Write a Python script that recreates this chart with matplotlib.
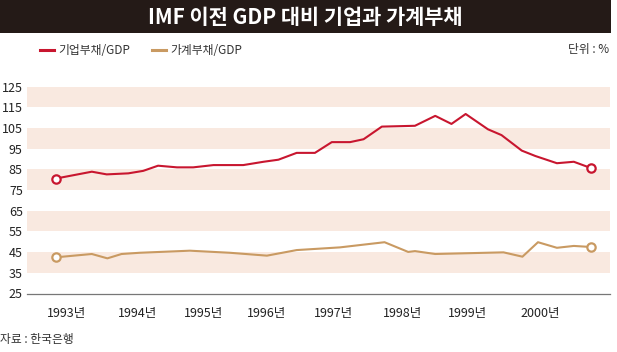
import matplotlib
matplotlib.use("Agg")
import matplotlib.pyplot as plt
from matplotlib.lines import Line2D
from matplotlib.patches import Rectangle

plt.rcParams['font.family'] = ['Noto Sans CJK KR', 'DejaVu Sans']

# x positions as decimal years
corp_x = [1993.00, 1993.53, 1993.75, 1994.07, 1994.29, 1994.51, 1994.79, 1995.03,
          1995.33, 1995.77, 1996.07, 1996.29, 1996.56, 1996.83, 1997.08, 1997.35,
          1997.55, 1997.82, 1998.31, 1998.61, 1998.85, 1999.06, 1999.39, 1999.59,
          1999.89, 2000.09, 2000.41, 2000.66, 2000.91]
corp_debt = [80.6, 83.9, 82.6, 83.1, 84.3, 86.8, 86.0, 86.0,
             87.1, 87.1, 88.7, 89.7, 93.0, 93.0, 98.2, 98.2,
             99.6, 105.7, 106.1, 110.9, 107.0, 111.8, 104.4, 101.6,
             94.1, 91.5, 88.0, 88.7, 85.7]

house_x = [1993.00, 1993.53, 1993.76, 1993.97, 1994.24, 1994.98, 1995.57, 1996.12,
           1996.56, 1997.20, 1997.86, 1998.21, 1998.31, 1998.61, 1999.62, 1999.90,
           2000.13, 2000.41, 2000.66, 2000.91]
house_debt = [42.5, 44.1, 42.0, 44.1, 44.7, 45.7, 44.7, 43.3,
              46.0, 47.3, 49.8, 45.1, 45.5, 44.1, 44.9, 42.8,
              49.8, 47.1, 48.0, 47.5]

year_pos = [1993.16, 1994.21, 1995.19, 1996.12, 1997.10, 1998.12, 1999.09, 2000.16]
year_labels = ['1993년', '1994년', '1995년', '1996년', '1997년', '1998년', '1999년', '2000년']
y_ticks = [25, 35, 45, 55, 65, 75, 85, 95, 105, 115, 125]

title = 'IMF 이전 GDP 대비 기업과 가계부채'
legend_labels = ['기업부채/GDP', '가계부채/GDP']
unit_text = '단위 : %'
source_text = '자료 : 한국은행'

red = '#c8162f'
tan = '#c99a62'
band = '#f9e9e0'

fig = plt.figure(figsize=(6.17, 3.52), dpi=100)
W, H = 617, 352

# title bar
fig.patches.append(Rectangle((0, 1 - 33 / H), 611 / W, 33 / H, transform=fig.transFigure,
                             facecolor='#241a17', edgecolor='none', zorder=0))
fig.text(305 / W, 1 - 17 / H, title, color='white', fontsize=15, fontweight='bold',
         ha='center', va='center')

# legend
lx = [(40, 54), (152, 166)]
for (x0, x1), lab, c in zip(lx, legend_labels, [red, tan]):
    fig.add_artist(Line2D([x0 / W, x1 / W], [1 - 50 / H, 1 - 50 / H], color=c, lw=2.2,
                          transform=fig.transFigure))
    fig.text((x1 + 4) / W, 1 - 50 / H, lab, fontsize=8.5, color='#333333',
             ha='left', va='center')
fig.text(609 / W, 1 - 50 / H, unit_text, fontsize=8.5, color='#333333', ha='right', va='center')
fig.text(0, 1 - 340 / H, source_text, fontsize=8.5, color='#333333', ha='left', va='center')

ax = fig.add_axes([27 / W, 1 - 293.5 / H, 583 / W, 206.8 / H])
xmin = 1993 - 29 / 67.6
xmax = 1993 + 554 / 67.6
ax.set_xlim(xmin, xmax)
ax.set_ylim(25, 125)

for lo in range(35, 125, 20):
    ax.axhspan(lo, lo + 10, color=band, lw=0, zorder=0)

ax.plot(corp_x, corp_debt, color=red, lw=1.5, zorder=3)
ax.plot(house_x, house_debt, color=tan, lw=1.5, zorder=3)
for xs, ys, c in [(corp_x, corp_debt, red), (house_x, house_debt, tan)]:
    ax.plot([xs[0], xs[-1]], [ys[0], ys[-1]], 'o', ms=6, mfc='white', mec=c, mew=1.6, zorder=4)

for s in ['top', 'right', 'left']:
    ax.spines[s].set_visible(False)
ax.spines['bottom'].set_color('#777777')
ax.spines['bottom'].set_linewidth(0.9)

ax.set_yticks(y_ticks)
ax.set_yticklabels([str(v) for v in y_ticks])
ax.set_xticks(year_pos)
ax.set_xticklabels(year_labels)
ax.tick_params(axis='both', length=0, labelsize=9, colors='#222222')
ax.tick_params(axis='y', pad=3)
ax.tick_params(axis='x', pad=10)
for t in ax.get_yticklabels():
    t.set_ha('right')

fig.savefig('out.png', dpi=100)
